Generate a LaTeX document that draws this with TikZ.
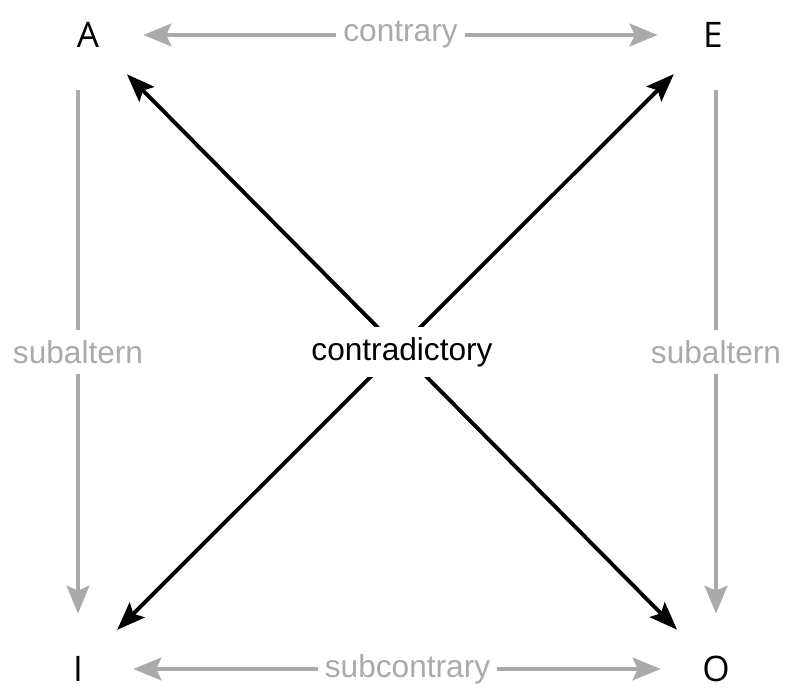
\documentclass[tikz,border=0pt]{standalone}
\usepackage{fontspec}
\setmainfont{Liberation Sans}
\newfontfamily\letterfont{Open Sans}
\usetikzlibrary{arrows.meta}
\definecolor{lightgrey}{RGB}{170,170,170}
\begin{document}
\begin{tikzpicture}[
  corner/.style={circle, minimum size=2.2cm, inner sep=0pt,
    font=\letterfont\fontsize{20}{24}\selectfont},
  relation/.style={fill=white, inner xsep=4pt, inner ysep=6pt,
    font=\fontsize{18}{22}\selectfont},
  greyarrow/.style={line width=1.9pt, draw=lightgrey,
    >={Stealth[length=16pt, width=13pt, inset=3pt]}},
  blackarrow/.style={line width=2.2pt, draw=black,
    >={Stealth[length=16pt, width=12pt, inset=3pt]}},
]
\useasboundingbox (0,0) rectangle (15.72,13.84);

\node[corner] (A) at (1.76, 13.14) {A};
\node[corner] (E) at (14.26, 13.14) {E};
\node[corner] (I) at (1.56, 0.46) {I};
\node[corner] (O) at (14.32, 0.46) {O};

\draw[greyarrow, <->] (A) -- node[relation, text=lightgrey] {contrary} (E);
\draw[greyarrow, <->] (I) -- node[relation, text=lightgrey, pos=0.52] {subcontrary} (O);
\draw[greyarrow, ->] (A.south -| I.north) -- node[relation, text=lightgrey] {subaltern} (I.north);
\draw[greyarrow, ->] (E.south -| O.north) -- node[relation, text=lightgrey] {subaltern} (O.north);

\draw[blackarrow, <->] (E) -- (I);
\draw[blackarrow, <->] (A) -- node[relation] {contradictory} (O);

\end{tikzpicture}
\end{document}
